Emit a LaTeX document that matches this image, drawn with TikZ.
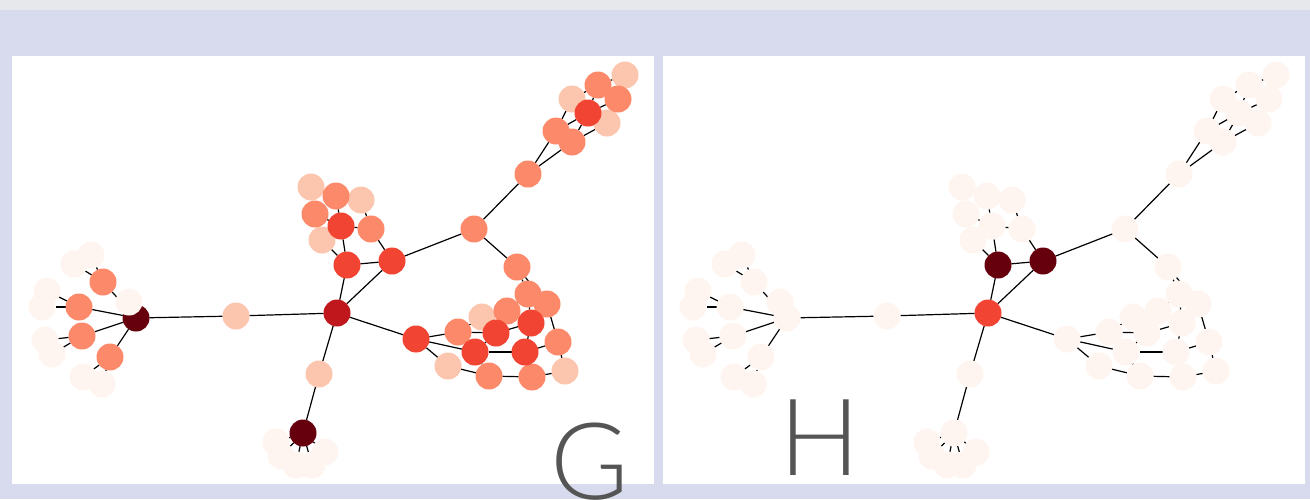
\documentclass[tikz,border=0pt]{standalone}
\usepackage{fontspec}
\IfFontExistsTF{Lato Light}{\newfontfamily\letterfont{Lato Light}}{\newfontfamily\letterfont{Lato}}
\usetikzlibrary{backgrounds}
\definecolor{wh}{HTML}{FFF5F0}
\definecolor{pe}{HTML}{FCC6AE}
\definecolor{og}{HTML}{FC8A6A}
\definecolor{rd}{HTML}{F14432}
\definecolor{cr}{HTML}{C0171C}
\definecolor{dk}{HTML}{67000D}
\definecolor{lav}{HTML}{D8DAEE}
\definecolor{strip}{HTML}{E6E8EC}
\definecolor{lettergray}{HTML}{555555}
\tikzset{%
   dn/.style={
      circle,
      inner sep=0mm,
      outer sep=0mm,
      minimum size=27pt,
      fill=#1
   },
   ln/.style={
      draw=black,
      line width=1.2pt
   },
   panel/.style={
      fill=white
   },
   letter/.style={
      inner sep=0pt,
      anchor=base,
      text=lettergray,
      font=\letterfont\fontsize{107}{107}\selectfont
   },
}

\begin{document}
\begin{tikzpicture}[x=1pt, y=-1pt]
  \useasboundingbox (0,0) rectangle (1310,499);
  % name/x/y/colour in G/colour in H (H sits 651 to the right)
  \foreach \n/\x/\y/\cg/\ch in {
      3/136/318/dk/wh, 4/129/302/wh/wh, 6/91/255/wh/wh, 7/74/264/wh/wh,
      9/47/291/wh/wh, 10/42/307/wh/wh, 12/45/340/wh/wh, 13/52/354/wh/wh,
      15/83/377/wh/wh, 16/102/384/wh/wh, 5/103/282/og/wh, 8/79/307/og/wh,
      11/82/336/og/wh, 14/110/357/og/wh,
      2/236/316/pe/wh, 1/337/313/cr/rd, 17/319/374/pe/wh,
      19/276/442/wh/wh, 20/281/456/wh/wh, 21/296/465/wh/wh, 22/312/465/wh/wh,
      23/325/452/wh/wh, 18/303/433/dk/wh,
      29/311/187/pe/wh, 30/361/200/pe/wh, 32/322/240/pe/wh, 28/336/196/og/wh,
      31/315/214/og/wh, 27/371/229/og/wh, 26/341/226/rd/wh, 24/347/265/rd/dk,
      25/392/261/rd/dk,
      33/474/229/og/wh, 34/528/174/og/wh, 42/625/75/pe/wh, 37/572/99/pe/wh,
      39/607/123/pe/wh, 40/598/85/og/wh, 41/618/99/og/wh, 35/556/131/og/wh,
      36/572/142/og/wh, 38/588/113/rd/wh,
      43/517/267/og/wh, 45/547/304/og/wh, 44/528/294/og/wh, 49/482/317/pe/wh,
      55/448/366/pe/wh, 58/565/371/pe/wh, 46/507/311/og/wh, 48/458/332/og/wh,
      54/558/342/og/wh, 56/489/376/og/wh, 57/532/377/og/wh, 47/416/339/rd/wh,
      50/496/333/rd/wh, 51/531/323/rd/wh, 52/475/352/rd/wh, 53/525/352/rd/wh}{
    \node[dn=\cg] (g\n) at (\x,\y) {};
    \node[dn=\ch] (h\n) at (\x+651,\y) {};
  }
  \begin{pgfonlayer}{background}
    \fill[lav] (0,0) rectangle (1310,499);
    \fill[strip] (0,0) rectangle (1310,10);
    \fill[panel] (12,56) rectangle (654,484);
    \fill[panel] (663,56) rectangle (1305,484);
    \foreach \a/\b in {1/2, 2/3, 3/4, 3/5, 3/8, 3/11, 3/14, 5/6, 5/7, 8/9, 8/10,
        11/12, 11/13, 14/15, 14/16, 1/17, 17/18, 18/19, 18/20, 18/21, 18/22,
        18/23, 1/24, 1/25, 24/25, 24/26, 24/32, 26/27, 26/28, 26/31, 27/30,
        27/25, 28/29, 31/32, 25/33, 33/34, 34/35, 34/36, 35/37, 35/38, 36/38,
        36/39, 38/40, 38/41, 37/40, 40/42, 33/43, 43/44, 43/45, 44/51, 44/46,
        45/54, 1/47, 47/48, 47/52, 47/55, 48/49, 48/50, 50/51, 50/52, 51/53,
        52/53, 52/56, 53/54, 54/58, 55/56, 56/57, 57/58}
      \path[ln] (g\a) edge (g\b) (h\a) edge (h\b);
  \end{pgfonlayer}
  \node[letter] (G) at (590,499) {G};
  \node[letter] (H) at (820,475) {H};
\end{tikzpicture}
\end{document}
